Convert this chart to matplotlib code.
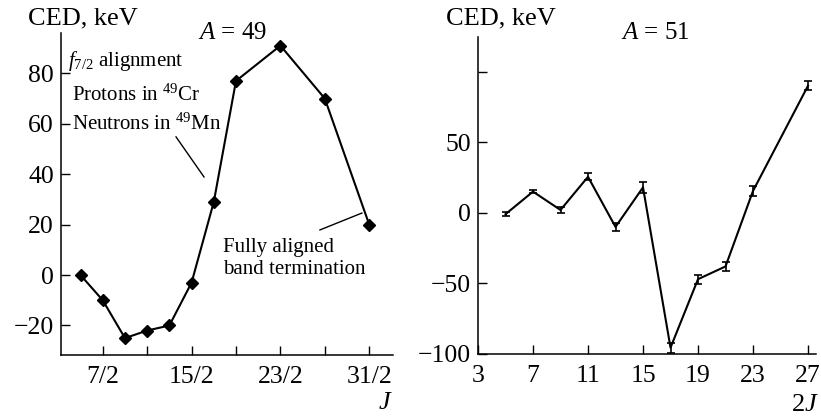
import matplotlib
matplotlib.use("Agg")
import matplotlib.pyplot as plt

plt.rcParams["font.family"] = ["Liberation Serif", "DejaVu Serif"]
plt.rcParams["mathtext.fontset"] = "custom"
plt.rcParams["mathtext.rm"] = "Liberation Serif"
plt.rcParams["mathtext.it"] = "Liberation Serif:italic"
plt.rcParams["mathtext.bf"] = "Liberation Serif:bold"

# A = 49: CED versus spin J (given as 2J)
two_j_49 = [5, 7, 9, 11, 13, 15, 17, 19, 23, 27, 31]
ced_49 = [0, -10, -25, -22, -20, -3, 29, 77, 91, 70, 20]
j_ticks_49 = [3.5, 5.5, 7.5, 9.5, 11.5, 13.5, 15.5]
j_labels_49 = ["7/2", "", "15/2", "", "23/2", "", "31/2"]
y_ticks_49 = [-20, 0, 20, 40, 60, 80]

# A = 51: CED versus 2J with uncertainties
two_j_51 = [5, 7, 9, 11, 13, 15, 17, 19, 21, 23, 27]
ced_51 = [-1, 15, 2, 25.5, -10, 18, -95.5, -47, -38, 15.5, 90]
err_51 = [1.3, 1.3, 2, 2.5, 3.0, 4.0, 3.5, 3.3, 3.5, 3.5, 3.3]
x_ticks_51 = [3, 7, 11, 15, 19, 23, 27]
y_ticks_51 = [-100, -50, 0, 50, 100]
y_labels_51 = ["\u2212100", "\u221250", "0", "50", ""]

W, H = 821, 418
fig = plt.figure(figsize=(W / 100, H / 100), dpi=100)

TICK_FS = 18.5
LABEL_FS = 19
NOTE_FS = 15


def px_axes(x0, y0, x1, y1):
    return fig.add_axes([x0 / W, 1 - y1 / H, (x1 - x0) / W, (y1 - y0) / H])


def style(ax):
    for s in ("top", "right"):
        ax.spines[s].set_visible(False)
    for s in ("left", "bottom"):
        ax.spines[s].set_linewidth(1.1)
    ax.tick_params(direction="in", length=6.5, width=1.0, labelsize=TICK_FS)
    ax.tick_params(axis="x", pad=8)
    ax.tick_params(axis="y", pad=5)


def minus(v):
    return f"{v}".replace("-", "\u2212")


ax1 = px_axes(61, 33, 393, 355)
style(ax1)
j49 = [v / 2 for v in two_j_49]
ax1.plot(j49, ced_49, color="black", lw=1.5, marker="D", ms=6.5)
ax1.set_xlim(1.62, 16.57)
ax1.set_ylim(-31.7, 96)
ax1.set_xticks(j_ticks_49)
ax1.set_xticklabels(j_labels_49)
ax1.set_yticks(y_ticks_49)
ax1.set_yticklabels([minus(v) for v in y_ticks_49])

fig.text(28 / W, 1 - 18 / H, "CED, keV", fontsize=LABEL_FS, ha="left", va="center")
fig.text(233 / W, 1 - 33 / H, "$A$ = 49", fontsize=18, ha="center", va="center")
fig.text(385 / W, 1 - 403 / H, "$J$", fontsize=LABEL_FS, ha="center", va="center")

ax1.text(1.94, 85, "$f_{7/2}$ alignment", fontsize=NOTE_FS, ha="left", va="center")
ax1.text(2.12, 71.5, "Protons in $^{49}$Cr", fontsize=NOTE_FS, ha="left", va="center")
ax1.text(2.12, 60, "Neutrons in $^{49}$Mn", fontsize=NOTE_FS, ha="left", va="center")
ax1.plot([6.80, 8.06], [54.8, 38.9], color="black", lw=1.0)
ax1.text(8.9, 6.5, "Fully aligned\nband termination", fontsize=NOTE_FS,
         ha="left", va="center", linespacing=1.2)
ax1.plot([13.28, 15.17], [17.9, 24.6], color="black", lw=1.0)

ax2 = px_axes(478, 37, 816, 354)
style(ax2)
ax2.errorbar(two_j_51, ced_51, yerr=err_51, color="black", lw=1.5,
             elinewidth=1.2, capsize=3, capthick=1.2)
ax2.set_xlim(3, 27.58)
ax2.set_ylim(-100, 124.5)
ax2.set_xticks(x_ticks_51)
ax2.set_yticks(y_ticks_51)
ax2.set_yticklabels(y_labels_51)

fig.text(446 / W, 1 - 18 / H, "CED, keV", fontsize=LABEL_FS, ha="left", va="center")
fig.text(655 / W, 1 - 33 / H, "$A$ = 51", fontsize=18, ha="center", va="center")
fig.text(805 / W, 1 - 405 / H, "2$J$", fontsize=LABEL_FS, ha="center", va="center")

fig.savefig("out.png", dpi=100)
